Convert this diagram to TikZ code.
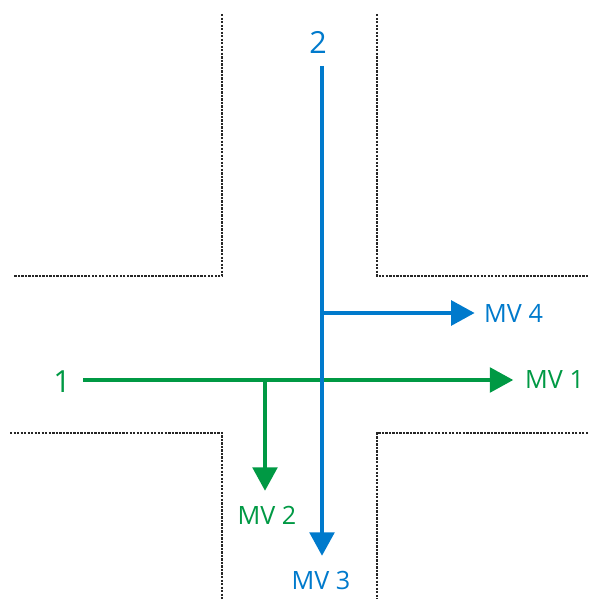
\documentclass[tikz,border=0pt]{standalone}
\usepackage{fontspec}
\setmainfont{Open Sans}
\usepackage{xcolor}
\usetikzlibrary{arrows.meta,positioning}

\definecolor{flowgreen}{RGB}{0,153,68}
\definecolor{flowblue}{RGB}{0,122,204}

\begin{document}
\begin{tikzpicture}[
  x=0.03cm, y=-0.03cm,
  kerb/.style={draw=black!85, line width=1.3pt, dash pattern=on 2pt off 1pt},
  greenflow/.style={-{Triangle[length=20pt,width=21pt]}, line width=3.2pt, draw=flowgreen},
  blueflow/.style={-{Triangle[length=20pt,width=21pt]}, line width=3.2pt, draw=flowblue},
  mvlabel/.style={font=\fontsize{21.5}{25}\selectfont, inner sep=0pt},
  armlabel/.style={font=\fontsize{26}{31}\selectfont, inner sep=0pt}
]
\useasboundingbox (0,0) rectangle (589,599);

% kerbs of the crossing
\draw[kerb] (222,14) -- (222,276) -- (14,276);
\draw[kerb] (377,14) -- (377,276) -- (588,276);
\draw[kerb] (10,433) -- (222,433) -- (222,599);
\draw[kerb] (588,433) -- (377,433) -- (377,599);

% approach 1
\node[armlabel, text=flowgreen] (arm1) at (62,382) {1};
\coordinate (g0) at (83,380);
\coordinate (gj) at (265,380);
\node[mvlabel, text=flowgreen, anchor=west] (mv1) at (525,380) {MV 1};
\node[mvlabel, text=flowgreen, anchor=north] (mv2) at (267,506) {MV 2};

% approach 2
\node[armlabel, text=flowblue] (arm2) at (318,42) {2};
\coordinate (b0) at (322,66);
\coordinate (bj) at (322,313);
\node[mvlabel, text=flowblue, anchor=north] (mv3) at (321,571) {MV 3};
\node[mvlabel, text=flowblue, anchor=west] (mv4) at (484,313) {MV 4};

\draw[greenflow] (g0) -- ([xshift=-10] mv1.west);
\draw[greenflow] (gj) -- ([yshift=13] mv2.north -| gj);
\draw[blueflow] (b0) -- ([yshift=13] mv3.north -| b0);
\draw[blueflow] (bj) -- ([xshift=-8] mv4.west);

\end{tikzpicture}
\end{document}
